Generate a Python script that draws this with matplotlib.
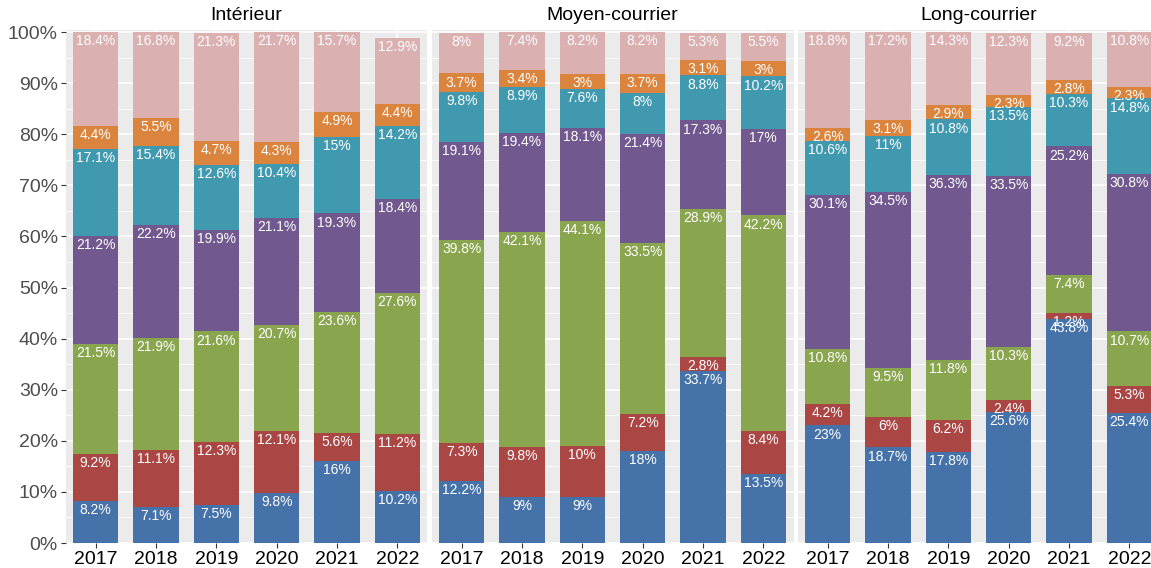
import matplotlib
matplotlib.use("Agg")
import matplotlib.pyplot as plt
import numpy as np

plt.rcParams['font.family'] = ['Liberation Sans', 'DejaVu Sans']

years = ["2017", "2018", "2019", "2020", "2021", "2022"]
panels = ["Intérieur", "Moyen-courrier", "Long-courrier"]
colors = ["#4572A8", "#AA4644", "#89A54E", "#71588F", "#4199AF", "#DB843D", "#DBB0B0"]

# segments from bottom to top, one list per year
interieur = [
    [8.2, 9.2, 21.5, 21.2, 17.1, 4.4, 18.4],
    [7.1, 11.1, 21.9, 22.2, 15.4, 5.5, 16.8],
    [7.5, 12.3, 21.6, 19.9, 12.6, 4.7, 21.3],
    [9.8, 12.1, 20.7, 21.1, 10.4, 4.3, 21.7],
    [16, 5.6, 23.6, 19.3, 15, 4.9, 15.7],
    [10.2, 11.2, 27.6, 18.4, 14.2, 4.4, 12.9],
]
moyen = [
    [12.2, 7.3, 39.8, 19.1, 9.8, 3.7, 8],
    [9, 9.8, 42.1, 19.4, 8.9, 3.4, 7.4],
    [9, 10, 44.1, 18.1, 7.6, 3, 8.2],
    [18, 7.2, 33.5, 21.4, 8, 3.7, 8.2],
    [33.7, 2.8, 28.9, 17.3, 8.8, 3.1, 5.3],
    [13.5, 8.4, 42.2, 17, 10.2, 3, 5.5],
]
long_c = [
    [23, 4.2, 10.8, 30.1, 10.6, 2.6, 18.8],
    [18.7, 6, 9.5, 34.5, 11, 3.1, 17.2],
    [17.8, 6.2, 11.8, 36.3, 10.8, 2.9, 14.3],
    [25.6, 2.4, 10.3, 33.5, 13.5, 2.3, 12.3],
    [43.8, 1.2, 7.4, 25.2, 10.3, 2.8, 9.2],
    [25.4, 5.3, 10.7, 30.8, 14.8, 2.3, 10.8],
]
data = [interieur, moyen, long_c]
yticks = [0, 10, 20, 30, 40, 50, 60, 70, 80, 90, 100]
ytick_labels = [f"{t}%" for t in yticks]

W, H = 1151, 568
fig = plt.figure(figsize=(W / 100, H / 100), dpi=100)
fig.patch.set_facecolor("white")

pw = 362
lefts = [65.5, 431.5, 797.5]
top_px, bot_px = 30, 543

for i, (name, d) in enumerate(zip(panels, data)):
    ax = fig.add_axes([lefts[i] / W, (H - bot_px) / H, pw / W, (bot_px - top_px) / H])
    ax.set_facecolor("#EBEBEB")
    for s in ax.spines.values():
        s.set_visible(False)
    ax.set_xlim(-0.5, 5.5)
    ax.set_ylim(0, 100.4)
    ax.set_yticks(yticks)
    ax.set_yticks([5, 15, 25, 35, 45, 55, 65, 75, 85, 95], minor=True)
    ax.grid(True, which="major", color="white", lw=1.1)
    ax.grid(True, which="minor", axis="y", color="white", lw=0.55)
    ax.set_axisbelow(True)
    x = np.arange(len(years))
    arr = np.array(d, dtype=float)
    bottoms = np.zeros(len(years))
    for k in range(arr.shape[1]):
        vals = arr[:, k]
        ax.bar(x, vals, bottom=bottoms, width=0.75, color=colors[k], linewidth=0)
        for j in range(len(years)):
            ax.annotate(f"{vals[j]:g}%", (x[j], bottoms[j] + vals[j]),
                        xytext=(0, -1.5), textcoords="offset points",
                        ha="center", va="top", color="white", fontsize=10)
        bottoms = bottoms + vals
    ax.set_xticks(x)
    ax.set_xticklabels(years, fontsize=14, color="black")
    ax.tick_params(axis="x", which="both", length=3.5, width=0.8, color="#333333", pad=2)
    ax.tick_params(axis="y", which="minor", length=0)
    if i == 0:
        ax.set_yticklabels(ytick_labels, fontsize=14, color="#4D4D4D")
        ax.tick_params(axis="y", which="major", length=3.5, width=0.8, color="#333333", pad=2)
    else:
        ax.set_yticklabels([])
        ax.tick_params(axis="y", which="major", length=0)
    fig.text((lefts[i] + pw / 2) / W, 1 - 15 / H, name, ha="center", va="center",
             fontsize=14, color="black")

fig.savefig("out.png", dpi=100)
